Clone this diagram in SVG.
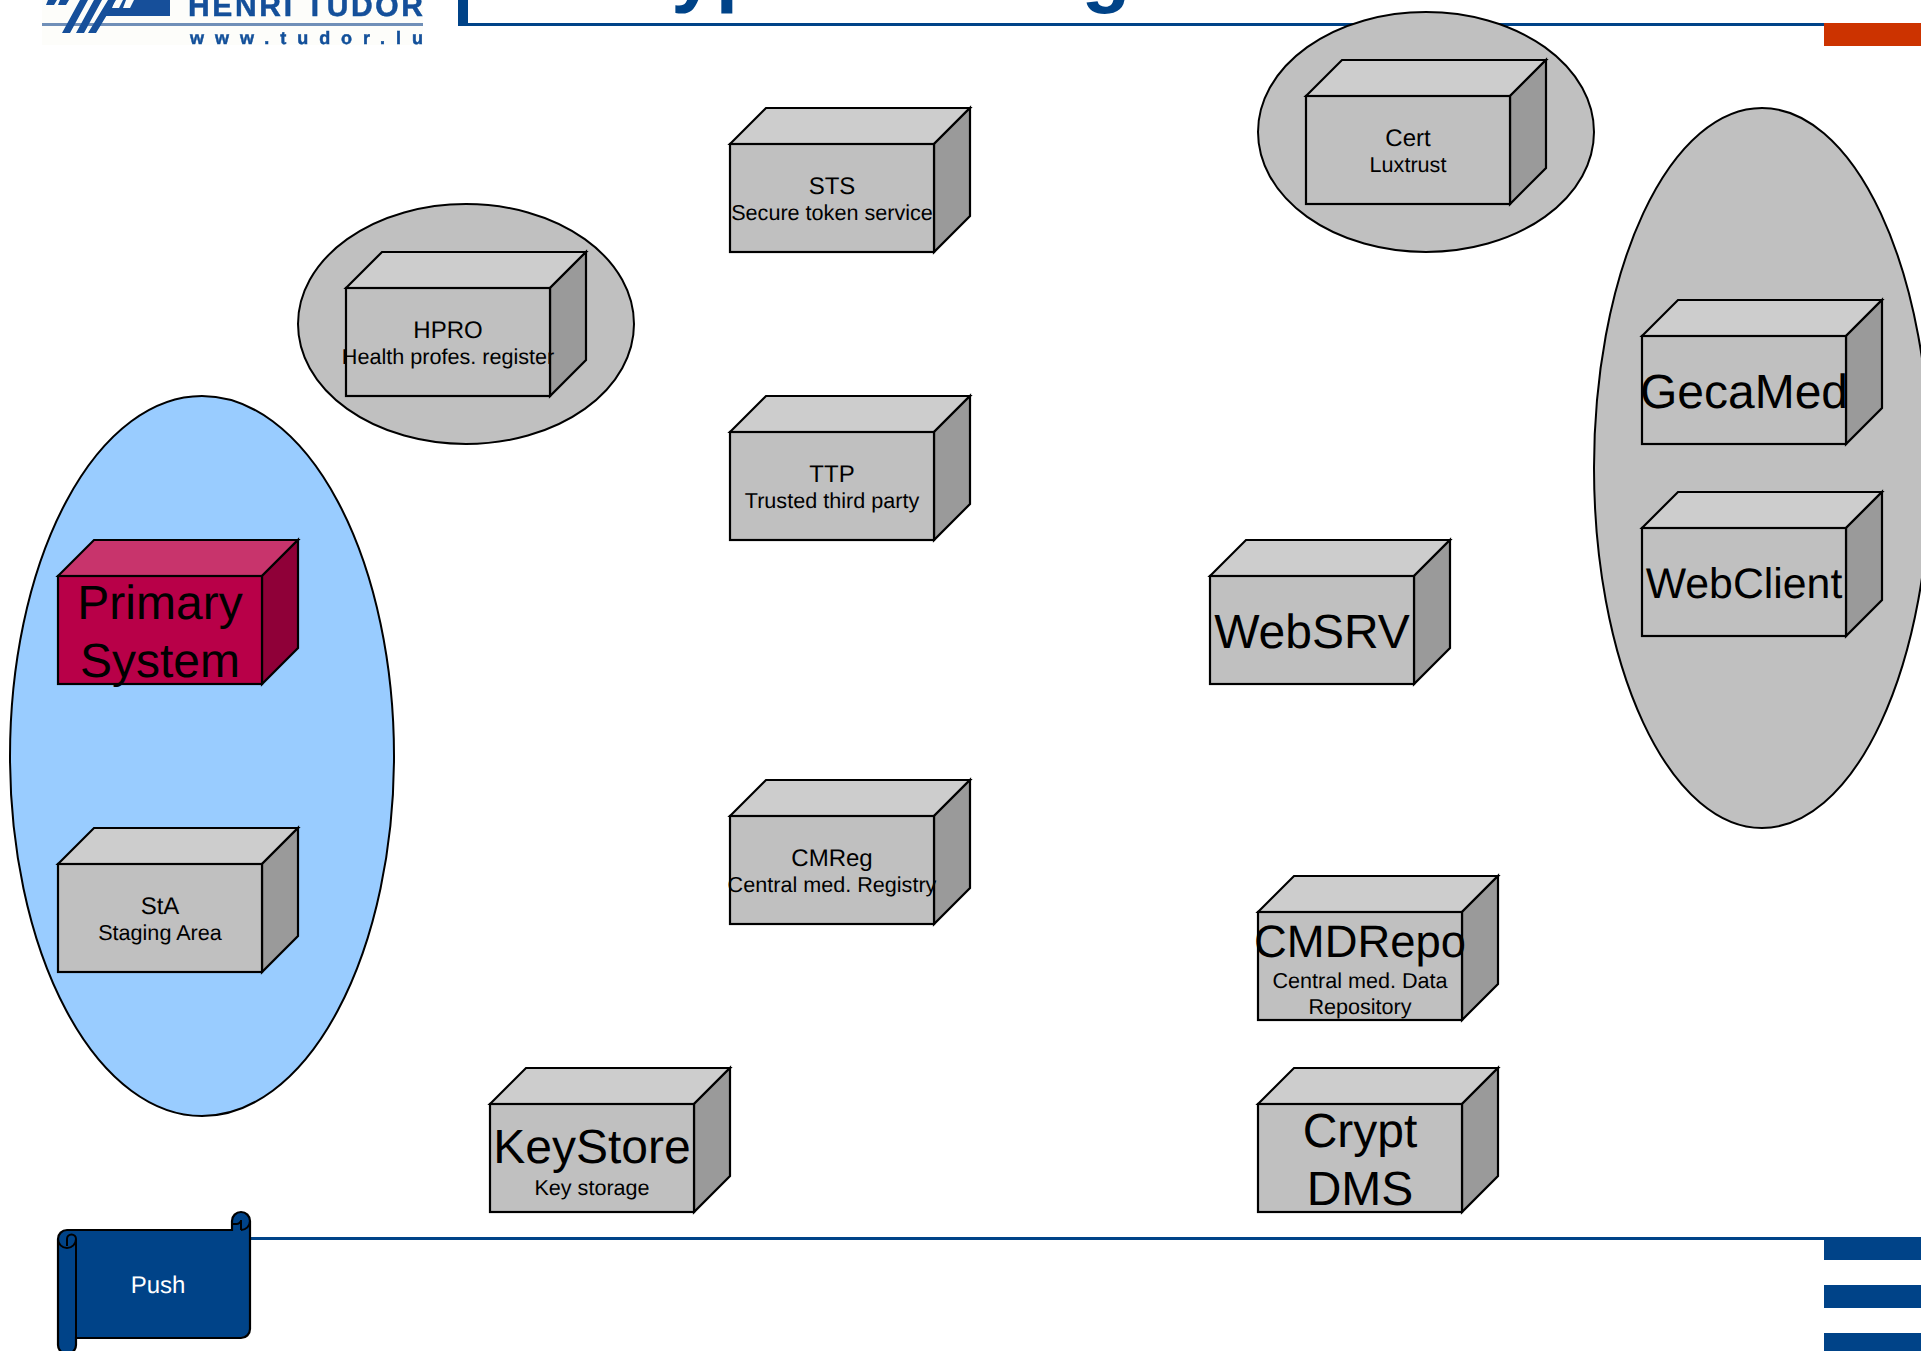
<svg xmlns="http://www.w3.org/2000/svg" width="1921" height="1351" viewBox="0 0 1921 1351">
<style>
text{font-family:"Liberation Sans",Arial,sans-serif;text-anchor:middle;fill:#000;text-rendering:geometricPrecision}
.e{stroke:#000;stroke-width:2;fill:#c0c0c0}
.f{fill:#c0c0c0}.t{fill:#cdcdcd}.s{fill:#9a9a9a}
.b{stroke:#000;stroke-width:2.2;stroke-linejoin:miter}
.l{font-size:48px}.m{font-size:24px}.n{font-size:21.6px}
.blue{fill:#004388}
.logot{font-weight:700;fill:#12509a;text-anchor:start;stroke:#12509a;stroke-width:.5}
</style>
<defs>
<g id="box"><path class="b t" d="M0 36L36 0H240L204 36Z"/><path class="b s" d="M204 36L240 0V108L204 144Z"/><rect class="b f" x="0" y="36" width="204" height="108"/></g>
<filter id="soft" x="0" y="0" width="1" height="1"><feGaussianBlur stdDeviation="0.6"/></filter>
</defs>
<g id="logo" filter="url(#soft)">
<rect x="42" y="0" width="381" height="45" fill="#fdfdfa"/>
<rect x="42" y="23" width="381" height="3" fill="#6f8fb8"/>
<path fill="#12509a" d="M106 0H170V16H103L110 0ZM48 0H57L54 5H46ZM60 0H69L66 5H58Z"/>
<path fill="#fdfdfa" d="M115 0H123L119 8H112ZM126 0H134L130 8H123Z"/>
<path fill="#12509a" d="M80 0H88L70 33H62ZM94 0H102L84 33H76ZM108 0H116L96 33H88Z"/>
<text class="logot" x="188" y="16" style="font-size:30px" textLength="235" lengthAdjust="spacing">HENRI TUDOR</text>
<text class="logot" x="190" y="44" style="font-size:18px" textLength="233" lengthAdjust="spacing">www.tudor.lu</text>
</g>
<g id="header">
<rect class="blue" x="458" y="0" width="10" height="26"/>
<rect class="blue" x="458" y="23" width="1367" height="3"/>
<rect x="1824" y="23" width="97" height="23" fill="#cc3300"/>
<text x="718" y="-3" style="font-size:80px;font-weight:700;fill:#004388">yp</text>
<text x="1106" y="-3" style="font-size:80px;font-weight:700;fill:#004388">g</text>
</g>
<g id="footer">
<rect class="blue" x="200" y="1237" width="1625" height="3"/>
<rect class="blue" x="1824" y="1237" width="97" height="23"/>
<rect class="blue" x="1824" y="1285" width="97" height="23"/>
<rect class="blue" x="1824" y="1333" width="97" height="18"/>
</g>
<g id="connectors"></g>
<g id="ellipse-primary"><ellipse cx="202" cy="756" rx="192" ry="360" class="e" style="fill:#99ccff"/></g>
<g id="ellipse-hpro"><ellipse cx="466" cy="324" rx="168" ry="120" class="e"/></g>
<g id="ellipse-cert"><ellipse cx="1426" cy="132" rx="168" ry="120" class="e"/></g>
<g id="ellipse-clients"><ellipse cx="1762" cy="468" rx="168" ry="360" class="e"/></g>

<g id="primary"><g transform="translate(58,540)"><path class="b" fill="#c8346c" d="M0 36L36 0H240L204 36Z"/><path class="b" fill="#8f0038" d="M204 36L240 0V108L204 144Z"/><rect class="b" fill="#b80048" x="0" y="36" width="204" height="108"/></g>
<text class="l" x="160" y="618.500">Primary</text><text class="l" x="160" y="676.500">System</text></g>
<g id="sta"><use href="#box" x="58" y="828"/><text class="m" x="160" y="914">StA</text><text class="n" x="160" y="940">Staging Area</text></g>
<g id="hpro"><use href="#box" x="346" y="252"/><text class="m" x="448" y="338">HPRO</text><text class="n" x="448" y="364">Health profes. register</text></g>
<g id="sts"><use href="#box" x="730" y="108"/><text class="m" x="832" y="194">STS</text><text class="n" x="832" y="220">Secure token service</text></g>
<g id="ttp"><use href="#box" x="730" y="396"/><text class="m" x="832" y="482">TTP</text><text class="n" x="832" y="508">Trusted third party</text></g>
<g id="cmreg"><use href="#box" x="730" y="780"/><text class="m" x="832" y="866">CMReg</text><text class="n" x="832" y="892">Central med. Registry</text></g>
<g id="keystore"><use href="#box" x="490" y="1068"/><text class="l" x="592" y="1163">KeyStore</text><text class="n" x="592" y="1195">Key storage</text></g>
<g id="cert"><use href="#box" x="1306" y="60"/><text class="m" x="1408" y="146">Cert</text><text class="n" x="1408" y="172">Luxtrust</text></g>
<g id="gecamed"><use href="#box" x="1642" y="300"/><text class="l" x="1744" y="408">GecaMed</text></g>
<g id="webclient"><use href="#box" x="1642" y="492"/><text class="l" x="1744" y="598" style="font-size:42.8px">WebClient</text></g>
<g id="websrv"><use href="#box" x="1210" y="540"/><text class="l" x="1312" y="648">WebSRV</text></g>
<g id="cmdrepo"><use href="#box" x="1258" y="876"/><text class="l" x="1360" y="957" style="font-size:45.4px">CMDRepo</text><text class="n" x="1360" y="988">Central med. Data</text><text class="n" x="1360" y="1014">Repository</text></g>
<g id="crypt"><use href="#box" x="1258" y="1068"/><text class="l" x="1360" y="1146.500">Crypt</text><text class="l" x="1360" y="1205">DMS</text></g>
<g id="push">
<path class="b blue" d="M232 1230V1221A9 9 0 0 1 250 1221V1329A9 9 0 0 1 241 1338H76V1345A9 9 0 0 1 58 1345V1239A9 9 0 0 1 67 1230Z"/>
<path d="M58 1239A9 9 0 0 0 76 1239V1338M76 1239A4.500 4.500 0 0 0 67 1239V1246M232 1224H236A4.500 4.500 0 0 0 241 1220V1230M241 1230A9 9 0 0 0 250 1221" fill="none" stroke="#000" stroke-width="2"/>
<text x="158" y="1293" style="font-size:24px;fill:#fff">Push</text>
</g>
</svg>
